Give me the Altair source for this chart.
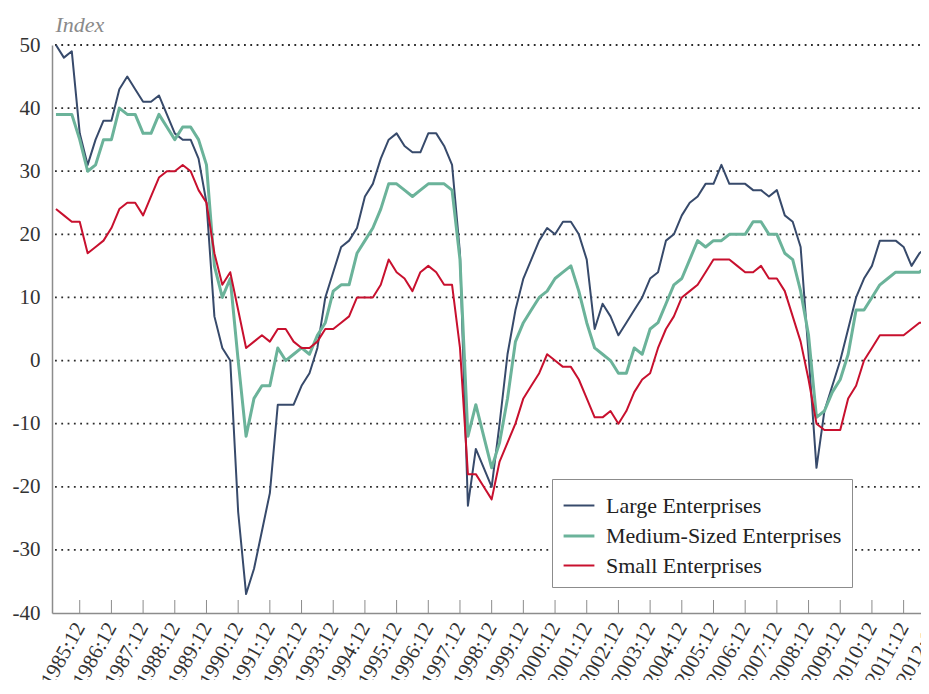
import altair as alt
import pandas as pd

# Quarterly observations, 1985:03 ... 2012:12 (index 0 = 1985:03)
START_YEAR = 1985
large = [50, 48, 49, 36, 31, 35, 38, 38, 43, 45,
         43, 41, 41, 42, 39, 36, 35, 35, 32, 25,
         7, 2, 0, -24, -37, -33, -27, -21, -7, -7,
         -7, -4, -2, 2, 10, 14, 18, 19, 21, 26,
         28, 32, 35, 36, 34, 33, 33, 36, 36, 34,
         31, 17, -23, -14, -17, -20, -10, 1, 8, 13,
         16, 19, 21, 20, 22, 22, 20, 16, 5, 9,
         7, 4, 6, 8, 10, 13, 14, 19, 20, 23,
         25, 26, 28, 28, 31, 28, 28, 28, 27, 27,
         26, 27, 23, 22, 18, 1, -17, -8, -4, 0,
         5, 10, 13, 15, 19, 19, 19, 18, 15, 17, 18, 18]
medium = [39, 39, 39, 35, 30, 31, 35, 35, 40, 39,
          39, 36, 36, 39, 37, 35, 37, 37, 35, 31,
          15, 10, 13, 0, -12, -6, -4, -4, 2, 0,
          1, 2, 1, 4, 6, 11, 12, 12, 17, 19,
          21, 24, 28, 28, 27, 26, 27, 28, 28, 28,
          27, 16, -12, -7, -12, -17, -13, -6, 3, 6,
          8, 10, 11, 13, 14, 15, 11, 6, 2, 1,
          0, -2, -2, 2, 1, 5, 6, 9, 12, 13,
          16, 19, 18, 19, 19, 20, 20, 20, 22, 22,
          20, 20, 17, 16, 11, 4, -9, -8, -5, -3,
          1, 8, 8, 10, 12, 13, 14, 14, 14, 14, 15, 13]
small = [24, 23, 22, 22, 17, 18, 19, 21, 24, 25,
         25, 23, 26, 29, 30, 30, 31, 30, 27, 25,
         17, 12, 14, 8, 2, 3, 4, 3, 5, 5,
         3, 2, 2, 3, 5, 5, 6, 7, 10, 10,
         10, 12, 16, 14, 13, 11, 14, 15, 14, 12,
         12, 2, -18, -18, -20, -22, -16, -13, -10, -6,
         -4, -2, 1, 0, -1, -1, -3, -6, -9, -9,
         -8, -10, -8, -5, -3, -2, 2, 5, 7, 10,
         11, 12, 14, 16, 16, 16, 15, 14, 14, 15,
         13, 13, 11, 7, 3, -3, -10, -11, -11, -11,
         -6, -4, 0, 2, 4, 4, 4, 4, 5, 6, 6, 5]

series_names = ["Large Enterprises", "Medium-Sized Enterprises", "Small Enterprises"]
series_colors = ["#374a6b", "#6bb39a", "#c8102e"]
series_widths = [2, 3, 2]

# December tick positions (quarter index) and their labels
tick_idx = [3 + 4 * k for k in range(28)]
tick_labels = [f"{START_YEAR + k}:12" for k in range(28)]
y_ticks = [-40, -30, -20, -10, 0, 10, 20, 30, 40, 50]
grid_vals = [-30, -20, -10, 0, 10, 20, 30, 40, 50]

rows = []
for name, vals in zip(series_names, [large, medium, small]):
    for i, v in enumerate(vals):
        rows.append({"series": name, "i": i, "v": v})
df = pd.DataFrame(rows)

PXQ = 7.922                     # pixels per quarter
W, H = 869, 568
FONT = "Liberation Serif"
XDOM = [-0.5, -0.5 + W / PXQ]
YDOM = [-40, 50]
LABEL_ANGLE = -61
LABEL_PAD = 11
XFS = 21

xs = alt.Scale(domain=XDOM, nice=False, zero=False)
ys = alt.Scale(domain=YDOM, nice=False, zero=False)

visible_ticks = [t for t in tick_idx if t <= XDOM[1]]

x_axis = alt.Axis(values=visible_ticks, title=None, ticks=False, tickSize=0,
                  grid=False, domainColor="#8c8c8c", domainWidth=1.5,
                  labelAngle=LABEL_ANGLE, labelAlign="right", labelBaseline="middle",
                  labelPadding=LABEL_PAD, labelFont=FONT, labelFontSize=XFS,
                  labelColor="#333333", labelOverlap=False, labelFlush=False,
                  labelExpr=f"floor((datum.value - 3) / 4) + {START_YEAR} + ':12'")
y_axis = alt.Axis(values=y_ticks, title="Index", titleAngle=0, titleAlign="left",
                  titleX=3, titleY=-14, titleBaseline="alphabetic",
                  titleFont=FONT, titleFontSize=22, titleFontStyle="italic",
                  titleFontWeight="normal", titleColor="#8a8a8a",
                  ticks=False, tickSize=0, grid=False, domainColor="#8c8c8c",
                  domainWidth=1.5, labelPadding=12, labelFont=FONT,
                  labelFontSize=21, labelColor="#333333",
                  labelExpr="'' + datum.value")

grid = alt.Chart(pd.DataFrame({"v": grid_vals})).mark_rule(
    color="#2b2b2b", strokeWidth=1.8, strokeDash=[1.8, 4.5]
).encode(
    y=alt.Y("v:Q", scale=ys, axis=y_axis),
    x=alt.value(3), x2=alt.value(W),
)

ticks_df = pd.DataFrame({"i": visible_ticks})
ticks = alt.Chart(ticks_df).mark_rule(color="#8c8c8c", strokeWidth=1).encode(
    x=alt.X("i:Q", scale=xs, axis=x_axis),
    y=alt.value(H - 13), y2=alt.value(H),
)

lines = alt.Chart(df).mark_line(clip=True, strokeJoin="round").encode(
    x=alt.X("i:Q", scale=xs, axis=x_axis),
    y=alt.Y("v:Q", scale=ys, axis=y_axis),
    color=alt.Color("series:N", title=None,
                    scale=alt.Scale(domain=series_names, range=series_colors)),
    strokeWidth=alt.StrokeWidth("series:N", title=None,
                                scale=alt.Scale(type="ordinal", domain=series_names,
                                                range=series_widths)),
    detail="series:N",
)

hidden = [(t, l) for t, l in zip(tick_idx, tick_labels) if t > XDOM[1]]
last_lab = alt.Chart(pd.DataFrame({"i": [h[0] for h in hidden],
                                   "t": [h[1] for h in hidden]})).mark_text(
    angle=360 + LABEL_ANGLE, align="right", baseline="middle", font=FONT, fontSize=XFS,
    color="#333333", clip=False
).encode(
    x=alt.X("i:Q", scale=xs, axis=x_axis),
    y=alt.value(H + LABEL_PAD),
    text="t:N",
)

chart = alt.layer(grid, ticks, lines, last_lab).properties(
    width=W, height=H,
    autosize=alt.AutoSizeParams(type="none"),
    padding={"left": 44, "top": 37, "right": 0, "bottom": 67},
    background="white",
).configure_view(stroke=None).configure_legend(
    orient="none", legendX=500, legendY=434,
    fillColor="white", strokeColor="#8c8c8c", padding=10,
    symbolType="stroke", symbolSize=950, labelOffset=10, rowPadding=2,
    labelFont=FONT, labelFontSize=22, labelColor="#222222", labelLimit=400,
)

chart.save("out.html", embed_options={"renderer": "svg", "actions": False})
